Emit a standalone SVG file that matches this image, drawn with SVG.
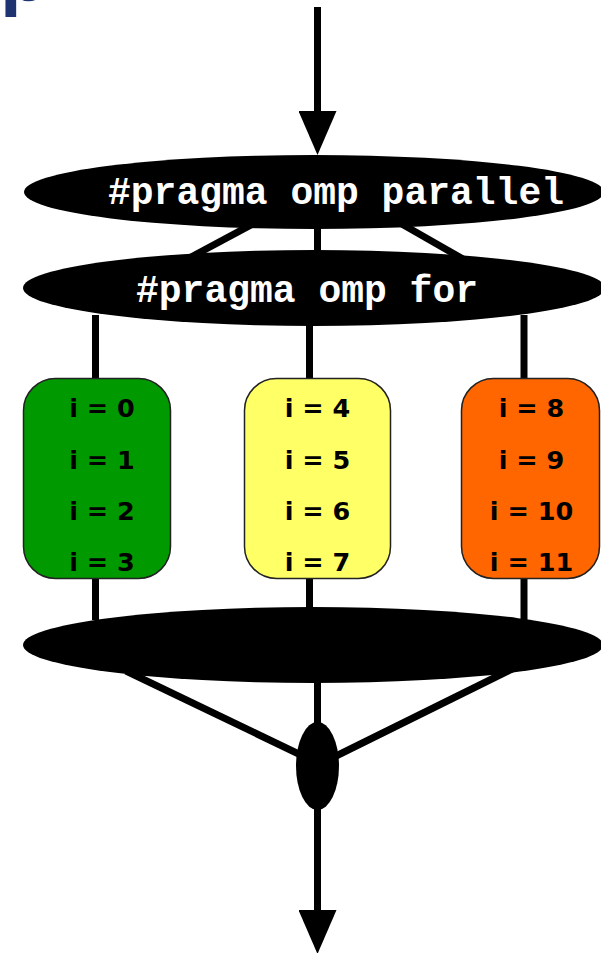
<svg xmlns="http://www.w3.org/2000/svg" width="601" height="953" viewBox="0 0 601 953">
<style>
.conn{stroke:#000;stroke-width:7;fill:none}
.oval{fill:#000}
.code{font-family:"Liberation Mono","Courier New",monospace;font-weight:bold;font-size:38px;fill:#fff}
.box{stroke:#222;stroke-width:1.5}
.it{font-family:"DejaVu Sans",Verdana,sans-serif;font-weight:bold;font-size:25.5px;fill:#000;text-anchor:middle}
</style>
<defs>
<marker id="ah" viewBox="0 0 44 38" refX="4" refY="19" markerWidth="44" markerHeight="38" markerUnits="userSpaceOnUse" orient="auto">
<path d="M0,0 L44,19 L0,38 Z" fill="#000"/>
</marker>
</defs>
<rect width="601" height="953" fill="#fff"/>
<g id="title-fragment">
<text x="0" y="1" font-family="Liberation Sans,Arial,sans-serif" font-weight="bold" font-size="78" fill="#1F3370">p</text>
</g>
<g id="connectors">
<path class="conn" d="M317.5,7 V115" marker-end="url(#ah)"/>
<path class="conn" d="M317.5,220 V260"/>
<path class="conn" d="M262,219 L180,263"/>
<path class="conn" d="M393,219 L470,263"/>
<path class="conn" d="M95.5,315 V382"/>
<path class="conn" d="M309.5,315 V382"/>
<path class="conn" d="M524,315 V382"/>
<path class="conn" d="M95.5,576 V620"/>
<path class="conn" d="M309.5,576 V620"/>
<path class="conn" d="M524,576 V620"/>
<path class="conn" d="M126,671 L305,757"/>
<path class="conn" d="M512,669 L330,759"/>
<path class="conn" d="M317.5,675 V730"/>
<path class="conn" d="M317.5,800 V914" marker-end="url(#ah)"/>
</g>
<g id="omp-parallel">
<ellipse class="oval" cx="314" cy="192" rx="290" ry="37"/>
<text class="code" x="108" y="204" textLength="456" lengthAdjust="spacingAndGlyphs">#pragma omp parallel</text>
</g>
<g id="omp-for">
<ellipse class="oval" cx="314" cy="288" rx="291" ry="38"/>
<text class="code" x="136" y="302" textLength="342" lengthAdjust="spacingAndGlyphs">#pragma omp for</text>
</g>
<g id="thread-0">
<rect class="box" x="23.5" y="378.5" width="147" height="200" rx="32" fill="#009900"/>
<text class="it" x="102" y="417">i = 0</text>
<text class="it" x="102" y="468.5">i = 1</text>
<text class="it" x="102" y="520">i = 2</text>
<text class="it" x="102" y="571">i = 3</text>
</g>
<g id="thread-1">
<rect class="box" x="244.5" y="378.5" width="146" height="200" rx="32" fill="#FFFF66"/>
<text class="it" x="317.5" y="417">i = 4</text>
<text class="it" x="317.5" y="468.5">i = 5</text>
<text class="it" x="317.5" y="520">i = 6</text>
<text class="it" x="317.5" y="571">i = 7</text>
</g>
<g id="thread-2">
<rect class="box" x="461.5" y="378.5" width="138" height="200" rx="32" fill="#FF6600"/>
<text class="it" x="531.5" y="417">i = 8</text>
<text class="it" x="531.5" y="468.5">i = 9</text>
<text class="it" x="531.5" y="520">i = 10</text>
<text class="it" x="531.5" y="571">i = 11</text>
</g>
<g id="barrier">
<ellipse class="oval" cx="313" cy="645" rx="290" ry="38"/>
</g>
<g id="join">
<ellipse class="oval" cx="317.5" cy="766" rx="21.5" ry="44"/>
</g>
</svg>
